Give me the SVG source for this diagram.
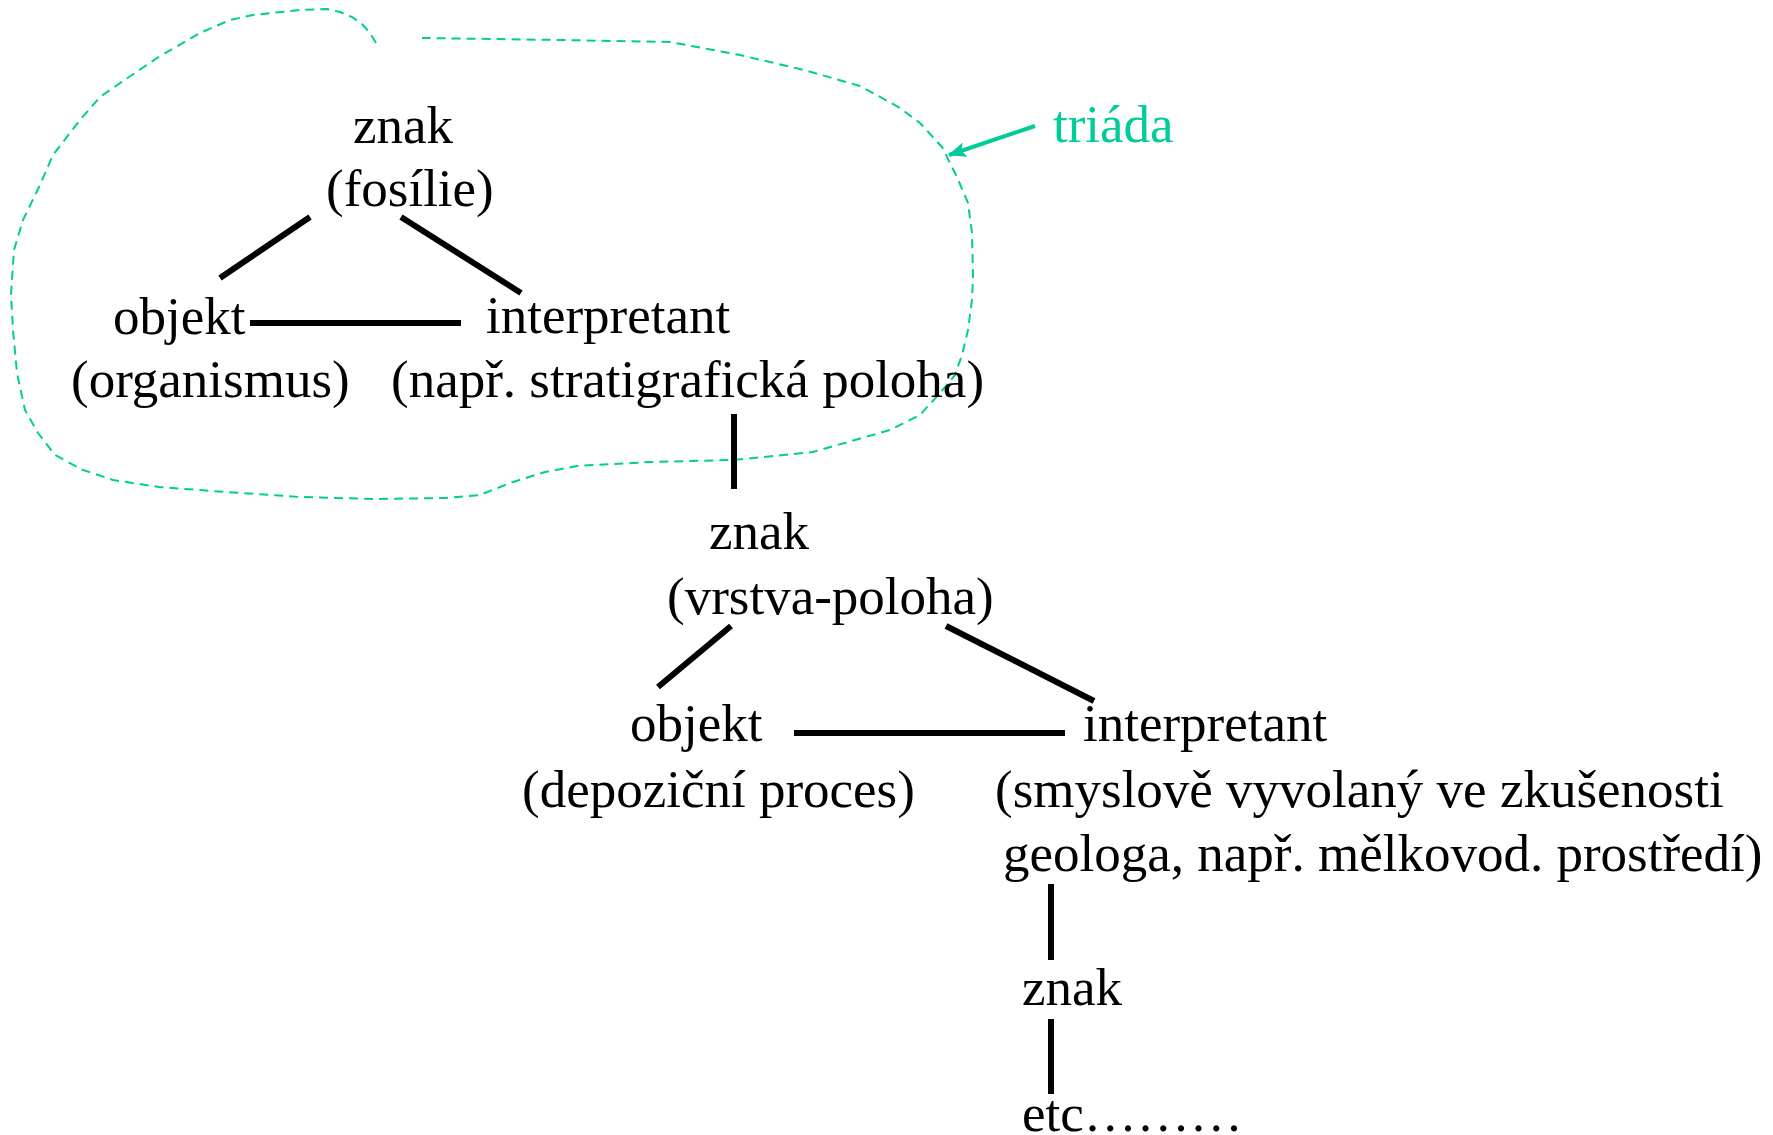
<svg xmlns="http://www.w3.org/2000/svg" width="1773" height="1135" viewBox="0 0 1773 1135">
<style>
  .t { font-family: "Liberation Serif", "Times New Roman", serif; font-size: 53px; fill: #000; }
  .teal { fill: #00CC99; }
  .c { stroke: #000; stroke-width: 6; fill: none; stroke-linecap: butt; }
  .blob { stroke: #00CC99; stroke-width: 2; fill: none; stroke-dasharray: 9 6; stroke-linejoin: round; }
</style>
<defs>
  <marker id="arr" markerUnits="userSpaceOnUse" markerWidth="18" markerHeight="15" refX="17" refY="7.5" orient="auto">
    <path d="M0,0 L18,7.5 L0,15 L4,7.5 z" fill="#00CC99"/>
  </marker>
</defs>
<rect width="1773" height="1135" fill="#fff"/>

<g id="triada-outline">
  <polyline class="blob" points="376,43 370,33 362,24 352,17 340,12 327,9 300,10 253,15 230,20 200,33 157,58 110,90 100,97 80,120 53,155 40,185 23,220 14,250 11,294 13,330 17,373 25,410 38,433 55,455 83,470 113,480 159,487 226,492 300,497 373,499 446,498 480,495 510,483 545,472 577,466 650,462 733,460 813,452 890,430 920,415 940,393 955,375 962,355 968,330 972,300 973,277 972,233 968,203 957,177 942,147 920,123 900,108 882,98 860,86 804,70 740,55 670,42 561,40 422,38"/>
</g>

<g id="connectors">
  <line class="c" x1="310" y1="217" x2="220" y2="278"/>
  <line class="c" x1="401" y1="217" x2="521" y2="293"/>
  <line class="c" x1="250" y1="323" x2="461" y2="323"/>
  <line class="c" x1="734" y1="414" x2="734" y2="489"/>
  <line class="c" x1="731" y1="626" x2="658" y2="687"/>
  <line class="c" x1="946" y1="626" x2="1094" y2="701"/>
  <line class="c" x1="794" y1="733" x2="1065" y2="733"/>
  <line class="c" x1="1051" y1="884" x2="1051" y2="960"/>
  <line class="c" x1="1051" y1="1019" x2="1051" y2="1094"/>
  <line x1="1035" y1="126" x2="949" y2="155" stroke="#00CC99" stroke-width="4" marker-end="url(#arr)"/>
</g>

<g id="znak1">
  <text class="t" x="353" y="143">znak</text>
  <text class="t" x="326" y="206">(fosílie)</text>
</g>
<g id="objekt1">
  <text class="t" x="113" y="334">objekt</text>
  <text class="t" x="71" y="397">(organismus)</text>
</g>
<g id="interpretant1">
  <text class="t" x="486" y="333">interpretant</text>
  <text class="t" x="391" y="397">(např. stratigrafická poloha)</text>
</g>
<g id="znak2">
  <text class="t" x="709" y="549">znak</text>
  <text class="t" x="667" y="614">(vrstva-poloha)</text>
</g>
<g id="objekt2">
  <text class="t" x="630" y="741">objekt</text>
  <text class="t" x="522" y="807">(depoziční proces)</text>
</g>
<g id="interpretant2">
  <text class="t" x="1083" y="741">interpretant</text>
  <text class="t" x="995" y="807">(smyslově vyvolaný ve zkušenosti</text>
  <text class="t" x="1003" y="871">geologa, např. mělkovod. prostředí)</text>
</g>
<g id="znak3">
  <text class="t" x="1022" y="1005">znak</text>
</g>
<g id="etc">
  <text class="t" x="1022" y="1131">etc………</text>
</g>
<g id="triada-label">
  <text class="t teal" x="1053" y="142">triáda</text>
</g>
</svg>
